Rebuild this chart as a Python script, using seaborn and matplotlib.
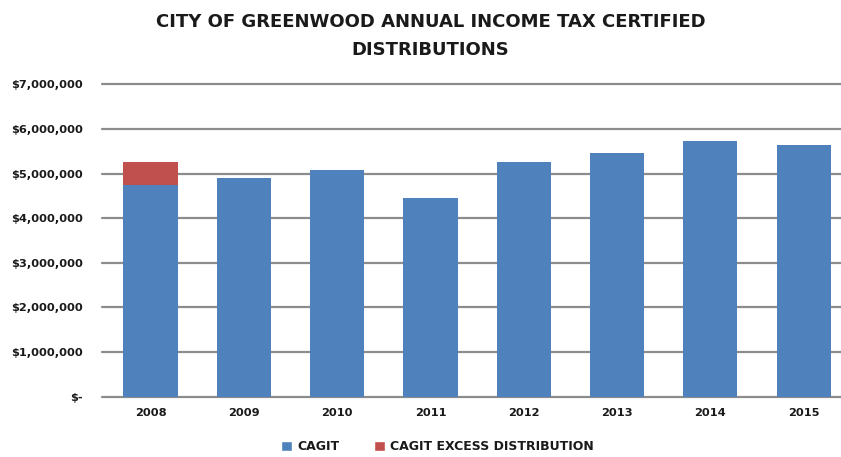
import matplotlib
matplotlib.use("Agg")
import matplotlib.pyplot as plt
import seaborn as sns
import pandas as pd
import numpy as np
from matplotlib.patches import Patch
from matplotlib.ticker import FuncFormatter

years = ["2008", "2009", "2010", "2011", "2012", "2013", "2014", "2015"]
cagit = [4740000, 4910000, 5090000, 4460000, 5270000, 5450000, 5720000, 5630000]
excess = [530000, 0, 0, 0, 0, 0, 0, 0]

df = pd.DataFrame({"year": years, "cagit": cagit, "excess": excess})
df["total"] = df["cagit"] + df["excess"]

sns.set_theme(style="white")
plt.rcParams["font.family"] = ["DejaVu Sans"]

blue = "#4F81BD"
red = "#C0504D"

fig = plt.figure(figsize=(8.41, 4.57), dpi=100)
ax = fig.add_axes([0.1213, 0.132, 0.8787, 0.6835])

sns.barplot(data=df, x="year", y="total", color=red, width=0.58, ax=ax,
            saturation=1, edgecolor="none", linewidth=0)
sns.barplot(data=df, x="year", y="cagit", color=blue, width=0.58, ax=ax,
            saturation=1, edgecolor="none", linewidth=0)

ax.set_ylim(0, 7000000)
ax.set_xlim(-0.52, 7.4)
ax.set_yticks(np.arange(0, 7000001, 1000000))
ax.yaxis.set_major_formatter(FuncFormatter(lambda v, p: "$-" if v == 0 else "${:,.0f}".format(v)))
ax.grid(axis="y", color="#8c8c8c", linewidth=1.6)
for gl in ax.get_ygridlines():
    gl.set_clip_on(False)
ax.set_axisbelow(True)
for s in ax.spines.values():
    s.set_visible(False)
ax.set_xlabel("")
ax.set_ylabel("")
ax.tick_params(axis="both", length=0, labelsize=8.2)
ax.tick_params(axis="y", pad=14)
ax.tick_params(axis="x", pad=8)
for lbl in ax.get_xticklabels() + ax.get_yticklabels():
    lbl.set_fontweight("bold")
    lbl.set_color("#1a1a1a")

fig.text(0.512, 0.952, "CITY OF GREENWOOD ANNUAL INCOME TAX CERTIFIED",
         ha="center", va="center", fontsize=13, fontweight="bold", color="#1a1a1a")
fig.text(0.512, 0.890, "DISTRIBUTIONS",
         ha="center", va="center", fontsize=13, fontweight="bold", color="#1a1a1a")

handles = [Patch(facecolor=blue, label="CAGIT"),
           Patch(facecolor=red, label="CAGIT EXCESS DISTRIBUTION")]
leg = fig.legend(handles=handles, loc="center", bbox_to_anchor=(0.52, 0.022),
                 ncol=2, frameon=False, handlelength=0.85, handleheight=0.85,
                 handletextpad=0.4, columnspacing=2.8,
                 prop={"size": 9, "weight": "bold"})
for t in leg.get_texts():
    t.set_color("#1a1a1a")

fig.savefig("out.png", dpi=100)
